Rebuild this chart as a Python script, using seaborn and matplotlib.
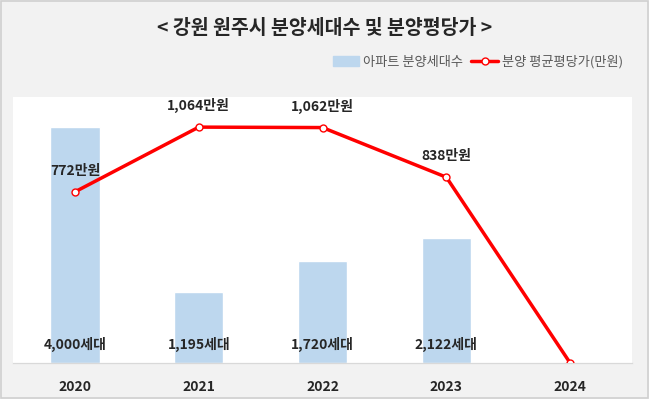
import numpy as np
import pandas as pd
import matplotlib.pyplot as plt
import matplotlib.patches as mpatches
import matplotlib.lines as mlines
import seaborn as sns

years = ["2020", "2021", "2022", "2023", "2024"]
units = [4000, 1195, 1720, 2122, 0]
prices = [772, 1064, 1062, 838, 0]

title = "< 강원 원주시 분양세대수 및 분양평당가 >"
bar_name = "아파트 분양세대수"
line_name = "분양 평균평당가(만원)"

sns.set_style("white")
plt.rcParams['font.family'] = ['Noto Sans CJK KR', 'DejaVu Sans']

df = pd.DataFrame({"year": years, "units": units, "price": prices})

fig = plt.figure(figsize=(6.49, 3.99), dpi=100, facecolor="#f2f2f2")
fig.patches.append(mpatches.Rectangle((0.001, 0.002), 0.997, 0.995, transform=fig.transFigure,
                                      fill=False, edgecolor="#d0d0d0", linewidth=1.2))
ax = fig.add_axes([0.020, 0.090, 0.954, 0.667])
ax.set_facecolor("white")

sns.barplot(data=df, x="year", y="units", color="#bdd7ee", width=0.4, saturation=1, ax=ax)
ax.set_ylim(0, 4500)
ax.set_xlim(-0.5, 4.5)

ax2 = ax.twinx()
sns.lineplot(x=np.arange(len(years)), y=df["price"], color="#ff0000", linewidth=2.5,
             marker="o", markersize=5, markerfacecolor="white", markeredgecolor="#ff0000",
             markeredgewidth=1, ax=ax2)
ax2.set_ylim(0, 1200)

for a in (ax, ax2):
    a.set_yticks([])
    a.set_ylabel("")
    for s in ("top", "left", "right"):
        a.spines[s].set_visible(False)
    a.spines["bottom"].set_color("#d9d9d9")
ax.set_xlabel("")
ax.tick_params(axis="x", length=0, pad=12)
for lbl in ax.get_xticklabels():
    lbl.set_fontweight("bold")
    lbl.set_fontsize(10)

# bar labels near the bottom
for i, v in enumerate(units):
    if v > 0:
        ax.annotate(f"{v:,}세대", (i, 0), xytext=(0, 8), textcoords="offset points",
                    ha="center", va="bottom", fontsize=10, fontweight="bold")

# line labels
for i, v in enumerate(prices):
    if v > 0:
        ax2.annotate(f"{v:,}만원", (i, v), xytext=(0, 10), textcoords="offset points",
                     ha="center", va="bottom", fontsize=10, fontweight="bold")

fig.text(0.5, 1 - 28 / 399, title, ha="center", va="center", fontsize=14, fontweight="bold")

h1 = mpatches.Patch(color="#bdd7ee")
h2 = mlines.Line2D([], [], color="#ff0000", linewidth=2.5, marker="o", markersize=5,
                   markerfacecolor="white", markeredgecolor="#ff0000")
fig.legend([h1, h2], [bar_name, line_name], loc="center right",
           bbox_to_anchor=(0.978, 1 - 62 / 399), ncol=2, frameon=False, fontsize=9.5,
           labelcolor="#595959", handlelength=2.0, columnspacing=0.6, handletextpad=0.3)

fig.savefig("out.png", dpi=100, facecolor=fig.get_facecolor())
